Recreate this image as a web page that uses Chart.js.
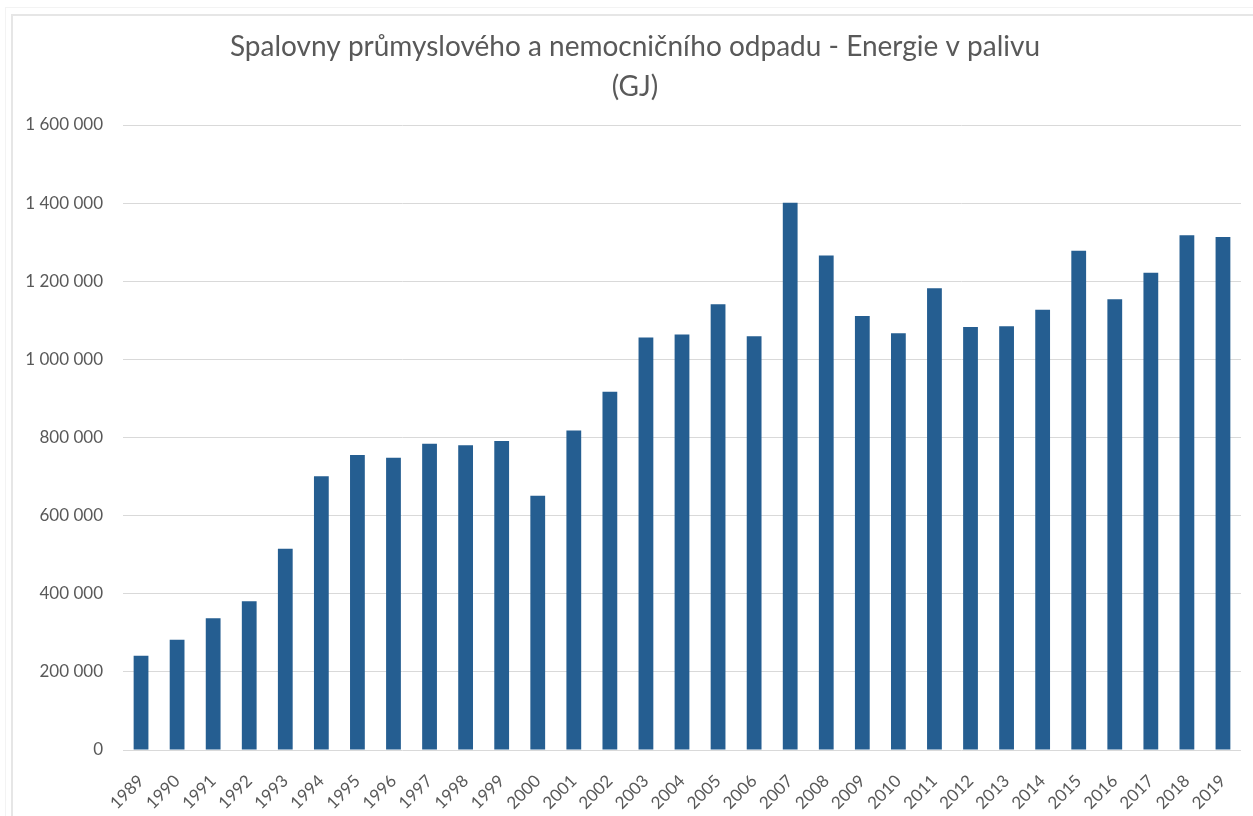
<!DOCTYPE html>
<html>
<head>
<meta charset="utf-8">
<script src="https://cdn.jsdelivr.net/npm/chart.js@4.4.1/dist/chart.umd.min.js"></script>
<style>
    html, body { margin: 0; padding: 0; background: #ffffff; overflow: hidden; }
    #outerFrame { position: absolute; left: 5px; top: 7px; width: 1300px; height: 900px; border: 1px solid #f3f3f3; }
    #innerFrame { position: absolute; left: 11px; top: 14px; width: 1300px; height: 900px; border: 2px solid #e6e6e6; }
    #mainChart { position: absolute; left: 0; top: 0; }
</style>
</head>
<body>
<div id="outerFrame"></div>
<div id="innerFrame"></div>
<canvas id="mainChart" width="1253" height="816"></canvas>
<script>
// data (GJ)
const years = ["1989", "1990", "1991", "1992", "1993", "1994", "1995", "1996", "1997", "1998",
    "1999", "2000", "2001", "2002", "2003", "2004", "2005", "2006", "2007", "2008",
    "2009", "2010", "2011", "2012", "2013", "2014", "2015", "2016", "2017", "2018", "2019"]
const energyValues = [241000, 282000, 337000, 381000, 515000, 701000, 755000, 748000, 784000, 780000,
    791000, 651000, 818000, 917000, 1056000, 1064000, 1141000, 1059000, 1401000, 1266000,
    1111000, 1067000, 1182000, 1083000, 1085000, 1127000, 1278000, 1154000, 1222000, 1318000, 1313000]
const titleLines = ["Spalovny průmyslového a nemocničního odpadu - Energie v palivu", "(GJ)"]
const yMax = 1600000
const yStep = 200000

const fontName = "Lato"
const textColor = "#595959"
const gridColor = "#d9d9d9"
const barColor = "#255e91"

function formatThousands(v) {
    return v.toString().replace(/\B(?=(\d{3})+(?!\d))/g, "\u00a0")
}

// title is centred on the whole frame, not on the plot, so draw it ourselves
const frameTitle = {
    id: "frameTitle",
    afterDraw(chart) {
        const c = chart.ctx
        c.save()
        c.fillStyle = textColor
        c.font = "normal 28px " + fontName
        c.textAlign = "center"
        c.textBaseline = "middle"
        c.fillText(titleLines[0], 635, 47)
        c.fillText(titleLines[1], 635, 87)
        c.restore()
    }
}

const ctx = document.getElementById("mainChart").getContext("2d")
window.myChart = new Chart(ctx, {
    type: "bar",
    data: {
        labels: years,
        datasets: [{
            label: "Energie v palivu",
            data: energyValues,
            backgroundColor: barColor,
            borderWidth: 0,
            barPercentage: 0.41,
            categoryPercentage: 1.0
        }]
    },
    options: {
        responsive: false,
        animation: false,
        devicePixelRatio: 1,
        layout: { padding: { left: 0, right: 12, top: 125, bottom: 0 } },
        plugins: {
            legend: { display: false },
            tooltip: { enabled: false },
            title: { display: false }
        },
        scales: {
            x: {
                grid: { display: false },
                border: { display: false },
                ticks: {
                    color: textColor,
                    font: { family: fontName, size: 17 },
                    minRotation: 45,
                    maxRotation: 45,
                    autoSkip: false,
                    padding: 13
                },
                afterFit: (scale) => { scale.height = 66 }
            },
            y: {
                min: 0,
                max: yMax,
                grid: { color: gridColor, drawTicks: false },
                border: { display: false },
                ticks: {
                    stepSize: yStep,
                    color: textColor,
                    font: { family: fontName, size: 17 },
                    padding: 20,
                    callback: (v) => formatThousands(v)
                },
                afterFit: (scale) => { scale.width = 123 }
            }
        }
    },
    plugins: [frameTitle]
})
</script>
</body>
</html>
